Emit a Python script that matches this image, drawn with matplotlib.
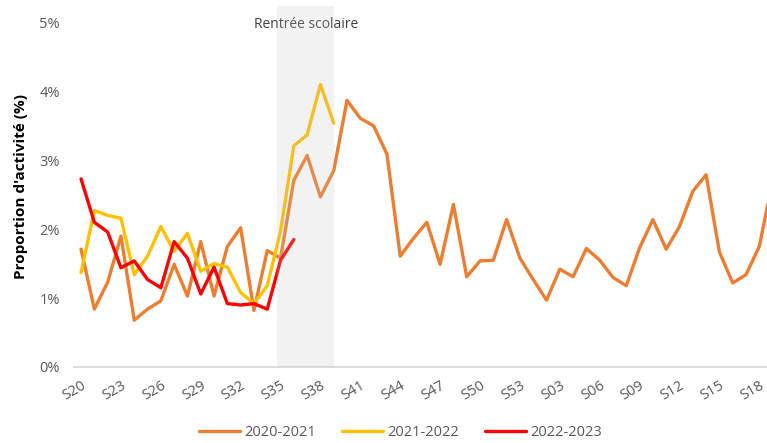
import matplotlib
matplotlib.use("Agg")

import numpy as np
import matplotlib.pyplot as plt
from matplotlib.ticker import PercentFormatter

# Weeks: S20..S53 then S01..S19
weeks = ["S%02d" % w for w in range(20, 54)] + ["S%02d" % w for w in range(1, 20)]

# Proportion d'activité (%) par saison
s2020 = [1.71, 0.84, 1.23, 1.90, 0.68, 0.84, 0.96, 1.49, 1.03, 1.82,
         1.03, 1.75, 2.02, 0.82, 1.69, 1.58, 2.71, 3.07, 2.47, 2.85,
         3.87, 3.61, 3.50, 3.09, 1.61, 1.87, 2.10, 1.49, 2.36, 1.31,
         1.54, 1.55, 2.14, 1.58, 1.27, 0.97, 1.42, 1.31, 1.72, 1.55,
         1.30, 1.18, 1.73, 2.14, 1.71, 2.04, 2.55, 2.79, 1.67, 1.22,
         1.34, 1.75, 2.70]
s2021 = [1.37, 2.27, 2.20, 2.16, 1.34, 1.61, 2.04, 1.68, 1.94, 1.39,
         1.50, 1.45, 1.08, 0.92, 1.18, 1.97, 3.21, 3.37, 4.10, 3.54]
s2022 = [2.73, 2.10, 1.96, 1.44, 1.54, 1.27, 1.15, 1.82, 1.58, 1.06,
         1.45, 0.92, 0.90, 0.92, 0.84, 1.55, 1.85]

x = np.arange(len(weeks))

plt.rcParams['font.family'] = ['Open Sans', 'DejaVu Sans']

fig = plt.figure(figsize=(7.67, 4.43), dpi=100)
ax = fig.add_axes([74 / 767, 76 / 443, 1 - 74 / 767, 361 / 443])

ax.plot(x[:len(s2020)], np.array(s2020) / 100, color="#ED7D31", lw=2.4,
        label="2020-2021", solid_capstyle="round")
ax.plot(x[:len(s2021)], np.array(s2021) / 100, color="#FFC000", lw=2.4,
        label="2021-2022", solid_capstyle="round")
ax.plot(x[:len(s2022)], np.array(s2022) / 100, color="#FF0000", lw=2.4,
        label="2022-2023", solid_capstyle="round")

# Rentrée scolaire shading (overlay)
ax.axvspan(14.75, 19.05, color="#bfbfbf", alpha=0.2, lw=0, zorder=5)
ax.text(16.9, 0.0497, "Rentrée scolaire", ha="center", va="center",
        fontsize=10, color="#404040")

ax.set_xlim(-0.53, 51.58)
ax.set_ylim(0, 0.0524)
ax.set_yticks(np.arange(0, 0.051, 0.01))
ax.yaxis.set_major_formatter(PercentFormatter(1.0, decimals=0))

ax.set_xticks(x[::3])
ax.set_xticklabels(weeks[::3], rotation=30, ha="right", va="top",
                   rotation_mode="anchor")

ax.tick_params(axis="both", length=0, labelsize=10.5, colors="#595959")
ax.tick_params(axis="x", pad=8)
ax.tick_params(axis="y", pad=10)
for s in ["top", "right", "left"]:
    ax.spines[s].set_visible(False)
ax.spines["bottom"].set_color("#d9d9d9")
ax.spines["bottom"].set_linewidth(1.3)

ax.set_ylabel("Proportion d'activité (%)", fontsize=11, fontweight="bold",
              color="black", labelpad=8)

leg = fig.legend(loc="center", bbox_to_anchor=(0.522, 0.023), ncol=3,
                 frameon=False, fontsize=10.5, handlelength=2.8,
                 columnspacing=1.8, handletextpad=0.3)
for t in leg.get_texts():
    t.set_color("#595959")

fig.savefig("out.png", dpi=100)
